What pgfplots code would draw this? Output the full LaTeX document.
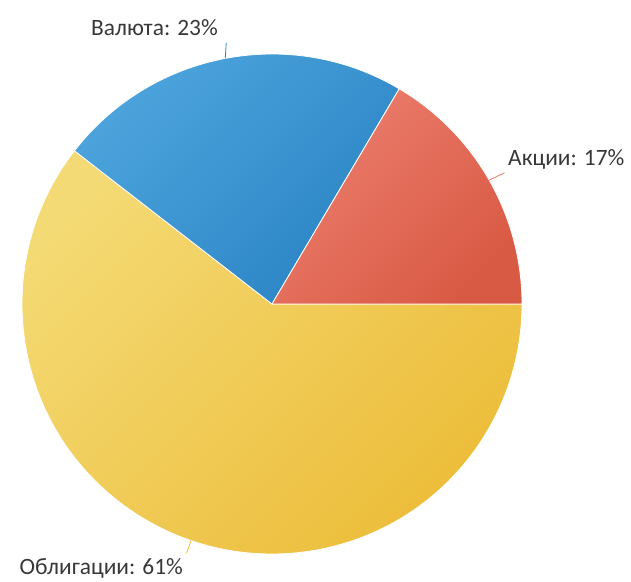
\documentclass[border=0pt]{standalone}
\usepackage{pgfplots}
\pgfplotsset{compat=1.18}
\usepackage{pgfplotstable}
\usepackage{fontspec}
\setmainfont{Carlito}
\definecolor{redA}{HTML}{EC7E6E}
\definecolor{redB}{HTML}{D95A44}
\definecolor{blueA}{HTML}{4FA6DE}
\definecolor{blueB}{HTML}{2B84C4}
\definecolor{yelA}{HTML}{F4DA74}
\definecolor{yelB}{HTML}{ECBC38}
\definecolor{txt}{HTML}{383838}
\pgfplotstableread[col sep=comma]{
label,value
Акции,16.5
Валюта,23
Облигации,60.5
}\piedata
\pgfplotstablegetelem{0}{value}\of\piedata \let\va\pgfplotsretval
\pgfplotstablegetelem{1}{value}\of\piedata \let\vb\pgfplotsretval
\pgfplotstablegetelem{2}{value}\of\piedata \let\vc\pgfplotsretval
\pgfmathsetmacro\angA{3.6*\va}
\pgfmathsetmacro\angB{\angA+3.6*\vb}
\pgfmathsetmacro\angC{\angB+3.6*\vc}
\newcommand\lblfont{\fontsize{23.5}{28}\selectfont}
\begin{document}
\begin{tikzpicture}
\begin{axis}[
  hide axis, clip=false, scale only axis,
  x=250bp, y=250bp,
  xmin=-1.088, xmax=1.436, ymin=-1.112, ymax=1.216,
]
\addplot[draw=none] coordinates {(0,0)};
% slices
\path[top color=yelA, bottom color=yelB, shading angle=45, draw=white, line width=0.8pt]
  (axis cs:0,0) -- (axis cs:{cos(\angB)},{sin(\angB)}) arc[start angle=\angB, end angle=\angC, radius=1] -- cycle;
\path[top color=blueA, bottom color=blueB, shading angle=45, draw=white, line width=0.8pt]
  (axis cs:0,0) -- (axis cs:{cos(\angA)},{sin(\angA)}) arc[start angle=\angA, end angle=\angB, radius=1] -- cycle;
\path[top color=redA, bottom color=redB, shading angle=45, draw=white, line width=0.8pt]
  (axis cs:0,0) -- (axis cs:1,0) arc[start angle=0, end angle=\angA, radius=1] -- cycle;
% leader lines
\draw[redB!80, line width=0.8pt] (axis cs:0.868,0.495) -- (axis cs:0.93,0.525);
\draw[blueB, line width=0.8pt] (axis cs:-0.187,0.982) -- (axis cs:-0.183,1.045);
\draw[yelB, line width=0.8pt] (axis cs:-0.324,-0.946) -- (axis cs:-0.342,-0.998);
% labels
\node[anchor=base west, font=\lblfont, text=txt, inner sep=0pt] at (axis cs:0.944,0.552) {Акции: 17\%};
\node[anchor=base east, font=\lblfont, text=txt, inner sep=0pt] at (axis cs:-0.216,1.072) {Валюта: 23\%};
\node[anchor=base east, font=\lblfont, text=txt, inner sep=0pt] at (axis cs:-0.356,-1.080) {Облигации: 61\%};
\end{axis}
\pgfresetboundingbox
\path (current axis.south west) rectangle (current axis.north east);
\end{tikzpicture}
\end{document}
